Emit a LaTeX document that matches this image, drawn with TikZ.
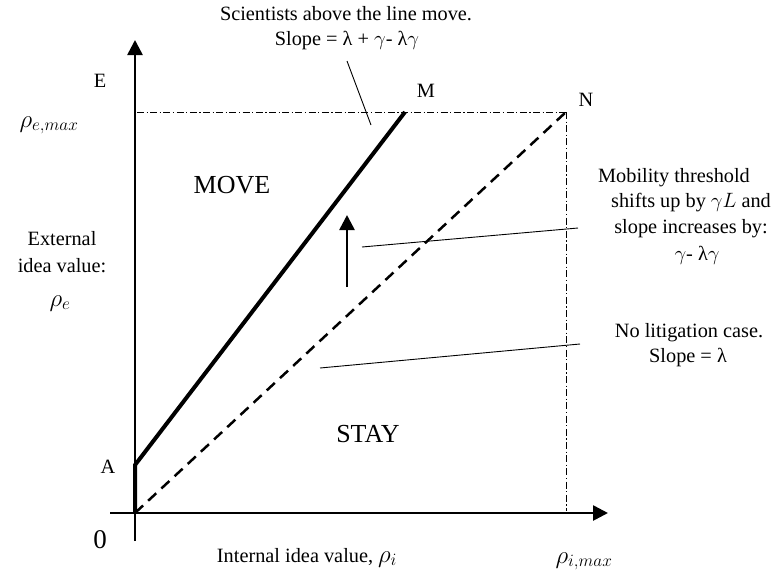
\documentclass[tikz,border=0pt]{standalone}
\usepackage{fontspec}
\setmainfont{Liberation Serif}
\usetikzlibrary{arrows.meta}
\begin{document}
\begin{tikzpicture}[x=1pt,y=-1pt,
  txt/.style={font=\fontsize{20.3}{24}\selectfont, anchor=base, inner sep=0pt},
  big/.style={font=\fontsize{26}{30}\selectfont, anchor=base, inner sep=0pt},
  mth/.style={font=\fontsize{27}{30}\selectfont, anchor=base, inner sep=0pt},
  axisline/.style={line width=2.6pt, -{Triangle[length=15pt,width=15pt]}},
  leader/.style={line width=0.9pt},
  dashdot/.style={line width=0.8pt, dash pattern=on 7pt off 2.5pt on 1.2pt off 2.5pt},
  thickline/.style={line width=4pt},
  dashline/.style={line width=2.5pt, dash pattern=on 11pt off 7pt},
]
\useasboundingbox (0,0) rectangle (775,576);
% key points
\coordinate (O) at (135,513);
\coordinate (A) at (135,465);
\coordinate (M) at (405,112);
\coordinate (N) at (566,112);
\coordinate (Ytop) at (135,40);
\coordinate (Ybot) at (135,541);
\coordinate (Xleft) at (110,513);
\coordinate (Xend) at (608,513);
\coordinate (Ymax) at (137,112);
\coordinate (Nfoot) at (566,511);
\coordinate (UpS) at (347,287);
\coordinate (UpE) at (347,215);
% leader coordinates
\coordinate (L1a) at (347,61);
\coordinate (L1b) at (371,125);
\coordinate (L2a) at (362,247);
\coordinate (L2b) at (578,228);
\coordinate (L3a) at (320,368);
\coordinate (L3b) at (580,344);

% dash-dot guides
\draw[dashdot] (Ymax) -- (N);
\draw[dashdot] (N) -- (Nfoot);
% axes
\draw[axisline] (Ybot) -- (Ytop);
\draw[axisline] (Xleft) -- (Xend);
% threshold lines
\draw[dashline] (O) -- (N);
\draw[thickline] (O) -- (A) -- (M);
% up arrow
\draw[axisline] (UpS) -- (UpE);
% leaders
\draw[leader] (L1a) -- (L1b);
\draw[leader] (L2a) -- (L2b);
\draw[leader] (L3a) -- (L3b);

% labels
\node[txt] (lE) at (100,87) {E};
\node[txt] (lM) at (426,97) {M};
\node[txt] (lN) at (586,106) {N};
\node[txt] (lA) at (108,473) {A};
\node[font=\fontsize{27}{30}\selectfont, anchor=base, inner sep=0pt] (l0) at (100,548) {0};
\node[mth] (lremax) at (49,127) {$\rho_{e,max}$};
\node[txt] (lext1) at (62,245) {External};
\node[txt] (lext2) at (62,272) {idea value:};
\node[mth] (lre) at (60,306) {$\rho_e$};
\node[big] (lmove) at (232,193) {MOVE};
\node[big] (lstay) at (368,442) {STAY};
\node[txt] (lint) at (307,562) {Internal idea value, {\fontsize{25}{28}\selectfont$\rho_i$}};
\node[mth] (lrimax) at (584,563) {$\rho_{i,max}$};
\node[txt] (sci1) at (346,20) {Scientists above the line move.};
\node[txt] (sci2) at (347,45) {Slope = λ + $\gamma$- λ$\gamma$};
\node[txt] (mob1) at (674,182) {Mobility threshold};
\node[txt] (mob2) at (691,207) {shifts up by $\gamma L$ and};
\node[txt] (mob3) at (691,233) {slope increases by:};
\node[txt] (mob4) at (697,260) {$\gamma$- λ$\gamma$};
\node[txt] (nol1) at (689,337) {No litigation case.};
\node[txt] (nol2) at (688,362) {Slope = λ};
\end{tikzpicture}
\end{document}
